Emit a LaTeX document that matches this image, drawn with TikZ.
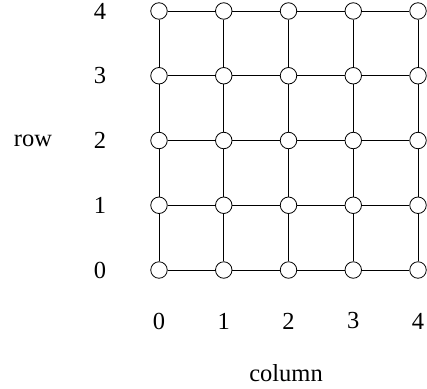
\documentclass[tikz,border=0pt]{standalone}
\usepackage{fontspec}
\setmainfont{Liberation Serif}
\usepackage{tikz}
\usetikzlibrary{positioning}
\tikzset{
  grid/vertex/.style={draw, circle, line width=0.8pt, fill=white, inner sep=0pt, minimum size=16.5pt},
  grid/edge/.style={line width=0.9pt},
  grid/label/.style={font=\fontsize{24.5}{28}\selectfont, inner sep=1pt}
}

\begin{document}
\begin{tikzpicture}[x=1pt, y=-1pt]
  \useasboundingbox (0,0) rectangle (427,388);
  % lattice points
  \foreach \c in {0,...,4} {
    \foreach \r in {0,...,4} {
      \node[grid/vertex] (v\c\r) at ({159+64.75*\c}, {270-64.75*\r}) {};
    }
  }
  % edges between neighbours
  \foreach \c [count=\cn from 1] in {0,...,3} {
    \foreach \r in {0,...,4} {
      \draw[grid/edge] (v\c\r) -- (v\cn\r);
      \draw[grid/edge] (v\r\c) -- (v\r\cn);
    }
  }
  % axis numbers
  \foreach \r in {0,...,4} {
    \node[grid/label] (rowlab\r) at (100, {270-64.75*\r}) {\r};
  }
  \foreach \c in {0,...,4} {
    \node[grid/label] (collab\c) at ({159+64.75*\c}, 321) {\c};
  }
  \node[grid/label] (rowname) at (33, 141) {row};
  \node[grid/label] (colname) at (286, 373) {column};
\end{tikzpicture}
\end{document}
